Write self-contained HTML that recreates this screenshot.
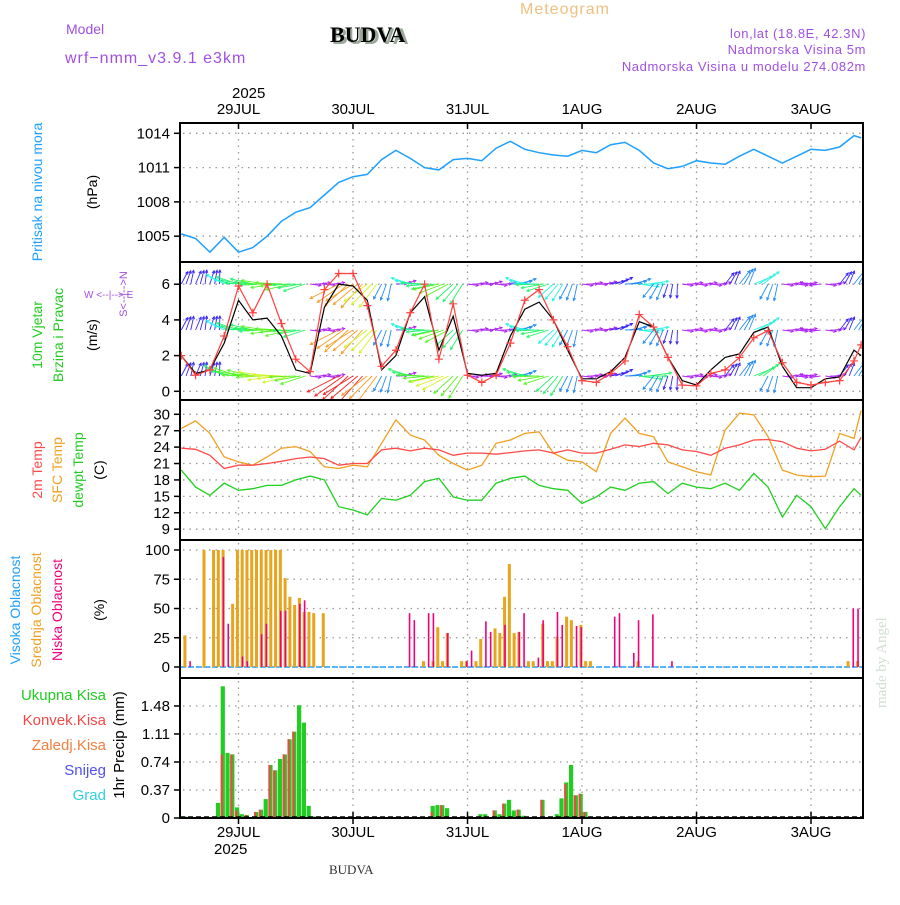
<!DOCTYPE html>
<html><head><meta charset="utf-8"><style>
body{margin:0;background:#fff;}
svg text{font-family:"Liberation Sans",sans-serif;}
</style></head><body>
<svg id="c" width="900" height="900" viewBox="0 0 900 900" xmlns="http://www.w3.org/2000/svg">
<rect width="900" height="900" fill="#fff"/>
<text x="520" y="14" font-size="16" fill="#f0c080" letter-spacing="1">Meteogram</text>
<text x="66" y="34" font-size="14" fill="#a050e0">Model</text>
<text x="65" y="63" font-size="16" fill="#a050e0" letter-spacing="1">wrf−nmm_v3.9.1 e3km</text>
<text x="332" y="44" font-size="22" font-weight="bold" fill="#9a9" font-family="Liberation Serif">BUDVA</text>
<text x="330" y="42" font-size="22" font-weight="bold" fill="#000" style="font-family:'Liberation Serif',serif">BUDVA</text>
<text x="866" y="38" font-size="13" fill="#a050e0" text-anchor="end" letter-spacing="0.6">lon,lat (18.8E, 42.3N)</text>
<text x="866" y="54" font-size="13" fill="#a050e0" text-anchor="end" letter-spacing="0.6">Nadmorska Visina 5m</text>
<text x="866" y="71" font-size="13" fill="#a050e0" text-anchor="end" letter-spacing="0.6">Nadmorska Visina u modelu 274.082m</text>
<text x="232" y="98" font-size="15" fill="#000">2025</text>
<text x="214" y="854" font-size="15" fill="#000">2025</text>
<text x="329" y="874" font-size="13" fill="#333" style="font-family:'Liberation Serif',serif">BUDVA</text>
<text x="0" y="0" font-size="15" fill="#cfe0cf" transform="translate(886,708) rotate(-90)" style="font-family:'Liberation Serif',serif">made by Angel</text>
<g id="g"></g>
</svg>
<script>
// ---- data (time in hours since 29JUL 00Z) ----
const times = [-12,-9,-6,-3,0,3,6,9,12,15,18,21,24,27,30,33,36,39,42,45,48,51,54,57,60,63,66,69,72,75,78,81,84,87,90,93,96,99,102,105,108,111,114,117,120,123,126,129,130.5];
const dayLabels = ["29JUL","30JUL","31JUL","1AUG","2AUG","3AUG"];
const pressure = [1005.2,1004.8,1003.6,1004.9,1003.6,1004.0,1005.0,1006.3,1007.1,1007.5,1008.6,1009.7,1010.2,1010.4,1011.7,1012.5,1011.8,1011.0,1010.8,1011.7,1011.8,1011.6,1012.7,1013.3,1012.6,1012.3,1012.1,1012.0,1012.5,1012.3,1013.0,1013.2,1012.5,1011.4,1010.9,1011.1,1011.6,1011.4,1011.3,1012.0,1012.6,1012.0,1011.4,1012.0,1012.6,1012.5,1012.8,1013.8,1013.6];
const windSpeed = [2.0,1.0,1.2,2.7,5.1,4.0,4.1,3.1,1.2,1.0,4.7,6.0,5.9,5.1,1.2,2.0,4.4,5.3,2.3,4.2,1.0,0.9,1.0,3.1,4.6,5.0,4.0,2.3,0.7,0.7,1.1,1.9,3.9,3.6,1.9,0.6,0.35,1.2,1.9,2.1,3.3,3.6,1.4,0.2,0.2,0.7,0.8,2.3,2.0];
const windGust = [2.0,0.9,1.2,3.1,5.9,4.4,6.0,3.8,1.8,1.1,5.7,6.6,6.6,4.8,1.4,2.3,4.4,6.0,1.8,4.9,0.9,0.5,0.9,2.7,5.1,5.7,4.0,2.5,0.6,0.5,1.0,1.7,4.3,3.6,1.9,0.35,0.3,1.0,1.2,1.9,3.0,3.4,1.6,0.5,0.35,0.5,0.6,1.7,2.6];
const windDir = [70,75,80,160,170,175,180,185,190,0,0,215,220,225,250,10,170,185,200,230,0,5,0,10,170,190,230,250,0,5,20,10,0,240,260,0,0,0,60,60,30,250,0,0,180,0,60,60,30];
const windArrowSpd = [3,3,3,5,6,6,7,7,6,2,2,9,9,8,4,2,5,6,7,6,2,2,2,4,5,6,5,4,2,2,3,4,5,4,3,2,2,2,3,4,5,4,2,2,2,2,3,4,4];
const temp2m = [23.8,23.6,22.5,20.1,20.7,20.7,21.0,21.4,21.9,22.2,21.9,20.7,21.0,21.0,23.5,23.8,23.3,23.8,23.5,22.5,22.9,22.9,22.7,23.0,23.3,23.5,22.9,23.5,22.9,22.9,23.6,24.4,24.1,24.7,24.4,23.5,23.2,22.5,23.8,24.4,25.3,25.4,25.0,23.8,23.3,23.6,25.1,23.5,25.8];
const tempSfc = [27.4,28.8,26.5,22.2,21.3,20.7,22.2,23.8,24.1,23.2,20.4,20.1,20.7,20.4,24.7,29.0,26.2,25.3,22.5,21.0,19.8,20.7,24.7,25.3,26.5,26.8,22.9,21.6,21.3,19.5,26.5,29.3,26.5,25.9,21.3,20.4,19.5,18.9,27.1,30.2,29.9,25.9,19.8,18.9,18.6,18.7,26.5,25.6,30.7];
const tempDew = [19.8,16.7,15.2,17.4,16.1,16.4,17.0,17.0,18.0,18.7,18.0,13.1,12.5,11.6,14.6,14.3,15.2,17.7,18.3,14.9,14.3,14.3,17.4,18.3,18.7,17.0,16.4,16.1,13.7,14.9,16.7,16.1,17.4,17.7,15.5,17.4,16.7,16.4,17.4,16.1,19.2,16.7,11.2,15.2,13.1,9.1,13.1,16.4,15.2];
const midCloudHours = [-11,-7,-5,-4,-3,-1,0,1,2,3,4,5,6,7,8,9,10,11,12,13,14,15,16,18,39,41,42,43,44,47,48,50,51,54,55,56,57,58,59,61,62,64,65,66,67,69,70,72,73,74,84,128,130];
const midCloud = [27,100,100,100,100,54,100,100,100,100,100,100,100,100,100,100,76,60,53,59,47,47,46,46,5,5,34,5,29,5,5,5,24,33,29,60,88,29,30,5,5,37,5,5,26,43,40,36,5,5,5,5,5];
const lowCloudHours = [-10,-3,-2,1,2,5,6,9,10,13,14,36,37,40,41,44,48,49,52,53,56,59,60,63,64,67,68,71,72,79,80,83,84,87,91,129,130];
const lowCloud = [5,94,37,9,5,28,37,48,48,54,57,46,40,46,46,29,5,14,39,30,36,30,46,8,40,47,36,35,34,43,46,12,40,45,5,50,50];
const precipHours = [-11,-4,-3,-2,-1,0,1,2,4,5,6,7,8,9,10,11,12,13,14,15,16,41,42,43,44,51,52,54,55,56,57,58,59,60,64,67,68,69,70,71,72,73];
const precipTotal = [0.02,0.20,1.74,0.86,0.84,0.14,0.05,0.04,0.08,0.11,0.25,0.70,0.63,0.78,0.84,1.04,1.14,1.49,1.26,0.16,0.02,0.16,0.17,0.17,0.13,0.05,0.05,0.10,0.05,0.19,0.24,0.10,0.11,0.03,0.24,0.05,0.26,0.47,0.70,0.30,0.32,0.08];
const precipConv = [0.02,0,0.84,0,0.84,0.10,0,0.04,0.08,0.11,0,0.70,0.63,0,0.84,1.04,1.14,0,0,0,0,0.08,0,0.17,0,0,0,0.10,0,0.19,0,0,0.11,0,0.24,0,0,0.45,0,0.30,0.32,0.08];

// ---- axes ----
const L=180,R=863;
const X = t => 238.5 + 4.771*t;
const dayX = i => X(24*i);
const yP = p => 133.3 + (1014-p)*11.43;
const yW = v => 391.3 - v*17.85;
const yT = t => 414.3 + (30-t)*5.47;
const yC = c => 667 - c*1.17;
const yR = p => 818 - p*75.7;
const panels=[[123,262],[262,400],[400,540],[540,678],[678,818]];
const NS="http://www.w3.org/2000/svg";
const g=document.getElementById('g');
function el(tag,attrs,parent){const e=document.createElementNS(NS,tag);for(const k in attrs)e.setAttribute(k,attrs[k]);(parent||g).appendChild(e);return e;}
function txt(s,x,y,size,fill,extra){const e=el('text',Object.assign({x:x,y:y,'font-size':size,fill:fill},extra||{}));e.textContent=s;return e;}

const defs=el('defs',{});
panels.forEach((p,i)=>{const cp=el('clipPath',{id:'cp'+i},defs);el('rect',{x:L,y:p[0],width:R-L,height:p[1]-p[0]},cp);});

const grid=el('g',{stroke:'#999','stroke-width':1.3,'stroke-dasharray':'1.5 5'});


panels.forEach(p=>{for(let i=0;i<dayLabels.length;i++){const x=dayX(i);el('line',{x1:x,x2:x,y1:p[0]+3,y2:p[1]-2},grid);}});
function hgrid(vals,f,lab,name){vals.forEach((v,i)=>{const y=f(v);el('line',{x1:L+3,x2:R-2,y1:y,y2:y},grid);
 el('line',{x1:L-6,x2:L,y1:y,y2:y,stroke:'#000','stroke-width':1.5});
 const t=txt(lab[i],L-10,y+5,15,'#000',{'text-anchor':'end'});
 
 });}
hgrid([1014,1011,1008,1005],yP,["1014","1011","1008","1005"],'pressure');
hgrid([6,4,2,0],yW,["6","4","2","0"],'wind');
hgrid([30,27,24,21,18,15,12,9],yT,["30","27","24","21","18","15","12","9"],'temp');
hgrid([100,75,50,25,0],yC,["100","75","50","25","0"],'cloud');
hgrid([1.48,1.11,0.74,0.37,0],yR,["1.48","1.11","0.74","0.37","0"],'precip');

dayLabels.forEach((d,i)=>{const x=dayX(i);
 const a=txt(d,x,114,15,'#000',{'text-anchor':'middle'});
 
 
 const b=txt(d,x,837,15,'#000',{'text-anchor':'middle'});
 
 
 el('line',{x1:x,x2:x,y1:123,y2:129,stroke:'#000','stroke-width':1.5});
 el('line',{x1:x,x2:x,y1:812,y2:824,stroke:'#000','stroke-width':1.5});});

function line(vals,f,color,clip,name,w){const d=times.map((t,i)=>(i?'L':'M')+X(t).toFixed(1)+','+f(vals[i]).toFixed(1)).join('');
 const p=el('path',{d:d,fill:'none',stroke:color,'stroke-width':w||1.4,'clip-path':'url(#cp'+clip+')'});
 
 return p;}

line(pressure,yP,'#1ea0ff',0,'pressure-line',1.5);

// wind arrows
const rows=[284,330,376];
const arrows=el('g',{'clip-path':'url(#cp1)','stroke-width':0.9,fill:'none'});


rows.forEach((ry,ri)=>{times.forEach((t,i)=>{for(let k=0;k<3;k++){
 const x=X(t+k), a=(windDir[i]+(k-1)*8)*Math.PI/180, s=windArrowSpd[i]+(ri===2&&windArrowSpd[i]>4?1:0);
 const len=5+s*3.0, hue=Math.max(0,280-(s-2)*35);
 const col='hsl('+hue+',90%,55%)';
 const x2=x+len*Math.cos(a), y2=ry-len*Math.sin(a);
 el('line',{x1:x,y1:ry,x2:x2,y2:y2,stroke:col},arrows);
 const h1=a+Math.PI*0.85,h2=a-Math.PI*0.85;
 el('path',{d:'M'+(x2+3*Math.cos(h1))+','+(y2-3*Math.sin(h1))+'L'+x2+','+y2+'L'+(x2+3*Math.cos(h2))+','+(y2-3*Math.sin(h2)),stroke:col},arrows);}});});

line(windSpeed,yW,'#000',1,'wind-speed-line',1.2);
line(windGust,yW,'#ff4040',1,'wind-gust-line',1.2);
const gm=el('g',{stroke:'#ff4040','stroke-width':1.2,'clip-path':'url(#cp1)'});


times.forEach((t,i)=>{const x=X(t),y=yW(windGust[i]);el('path',{d:`M${x-4},${y}h8M${x},${y-4}v8`},gm);});

line(tempSfc,yT,'#f0a020',2,'sfc-temp-line',1.3);
line(temp2m,yT,'#ff4848',2,'2m-temp-line',1.3);
line(tempDew,yT,'#20d020',2,'dewpoint-line',1.3);

el('line',{x1:L,x2:R,y1:yC(0),y2:yC(0),stroke:'#1ea0ff','stroke-width':1.5,'stroke-dasharray':'6 2'});
midCloudHours.forEach((h,i)=>{const x=X(h)-2.6;const r=el('rect',{x:x,y:yC(midCloud[i]),width:3,height:yC(0)-yC(midCloud[i]),fill:'#e8a41c','clip-path':'url(#cp3)'});
 
 });
lowCloudHours.forEach((h,i)=>{const x=X(h)-1.5;const r=el('rect',{x:x,y:yC(lowCloud[i]),width:1.6,height:yC(0)-yC(lowCloud[i]),fill:'#f0007a','clip-path':'url(#cp3)'});
 
 });

precipHours.forEach((h,i)=>{const x=X(h)-3.5;
 const a=el('rect',{x:x,y:yR(precipTotal[i]),width:4.2,height:818-yR(precipTotal[i]),fill:'#22cc22'});
 
 
 if(precipConv[i]>0){const b=el('rect',{x:x,y:yR(precipConv[i]),width:2.2,height:818-yR(precipConv[i]),fill:'#f04848'});
 
 }});
el('line',{x1:L,x2:R,y1:817,y2:817,stroke:'#000','stroke-width':1.5,'stroke-dasharray':'5 3'});

panels.forEach(p=>{const f=el('rect',{x:L,y:p[0],width:R-L,height:p[1]-p[0],fill:'none',stroke:'#000','stroke-width':2});
 
 });

function vt(s,x,y,color,name,size){const t=txt(s,0,0,size||14,color,{'text-anchor':'middle',transform:`translate(${x},${y}) rotate(-90)`});
 
 return t;}
vt('Pritisak na nivou mora',42,192,'#1ea0ff','pressure-title');
vt('(hPa)',97,192,'#000','pressure-unit');
vt('10m Vjetar',42,335,'#22cc22','wind-title');
vt('Brzina i Pravac',63,335,'#22cc22','wind-subtitle');
vt('(m/s)',97,335,'#000','wind-unit');
vt('S<--|-->N',127,294,'#a050e0','compass-ns',11);
const cw=txt('W  <--|-->  E',84,298,10,'#a050e0',{'xml:space':'preserve'});


vt('2m Temp',42,470,'#ff4848','temp2m-title');
vt('SFC Temp',62,470,'#f0a020','sfc-temp-title');
vt('dewpt Temp',83,470,'#22cc22','dewpt-title');
vt('(C)',104,470,'#000','temp-unit');
vt('Visoka Oblacnost',20,610,'#1ea0ff','high-cloud-title');
vt('Srednja Oblacnost',41,610,'#f0a020','mid-cloud-title');
vt('Niska Oblacnost',62,610,'#f0007a','low-cloud-title');
vt('(%)',104,610,'#000','cloud-unit');
vt('1hr Precip (mm)',124,745,'#000','precip-title',15);
[['Ukupna Kisa','#22cc22',700],['Konvek.Kisa','#f04848',725],['Zaledj.Kisa','#f08040',750],['Snijeg','#5050f0',775],['Grad','#30d0e0',800]].forEach(l=>{
 const t=txt(l[0],106,l[2],15,l[1],{'text-anchor':'end'});
 
 });
</script>
</body></html>
